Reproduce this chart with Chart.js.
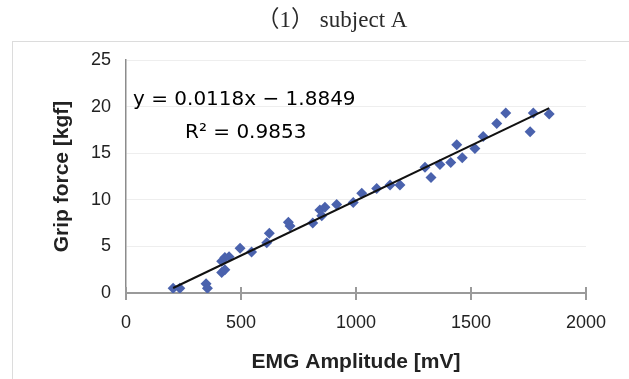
<!DOCTYPE html>
<html>
<head>
<meta charset="utf-8">
<script src="https://cdn.jsdelivr.net/npm/chart.js@4"></script>
<style>
  html, body { margin: 0; padding: 0; background: #ffffff; }
  #wrap { width: 629px; height: 379px; position: relative; }
</style>
</head>
<body>
<div id="wrap"><canvas id="c" width="629" height="379"></canvas></div>
<script>
// ---- data ----
const chartTitle = "（1） subject A";
const xTitle = "EMG Amplitude [mV]";
const yTitle = "Grip force [kgf]";
const xTicks = [0, 500, 1000, 1500, 2000];
const yTicks = [0, 5, 10, 15, 20, 25];

const emg  = [205, 234, 348, 354, 416, 430, 416, 430, 448, 496, 546, 612, 623, 706, 713, 812, 851, 843, 865, 916, 988, 1025, 1090, 1148, 1191, 1300, 1326, 1365, 1412, 1438, 1462, 1517, 1553, 1612, 1651, 1757, 1771, 1840];
const grip = [0.5, 0.5, 1.0, 0.5, 2.2, 2.5, 3.4, 3.8, 3.9, 4.8, 4.4, 5.4, 6.4, 7.6, 7.2, 7.5, 8.3, 8.9, 9.2, 9.5, 9.7, 10.7, 11.2, 11.6, 11.6, 13.5, 12.4, 13.8, 14.0, 15.9, 14.5, 15.5, 16.8, 18.2, 19.3, 17.3, 19.3, 19.2];

const trendSlope = 0.0118;
const trendIntercept = -1.8849;
const trendRange = [205, 1840];
const equationText = "y = 0.0118x − 1.8849";
const r2Text = "R² = 0.9853";

// ---- build ----
const points = emg.map((x, i) => ({ x: x, y: grip[i] }));
const trend = trendRange.map(x => ({ x: x, y: trendSlope * x + trendIntercept }));

const framePlugin = {
  id: 'frame',
  beforeDraw(chart) {
    const ctx = chart.ctx;
    ctx.save();
    ctx.strokeStyle = '#dcdcdc';
    ctx.lineWidth = 1;
    ctx.strokeRect(12.5, 41.5, chart.width, chart.height);
    ctx.restore();
  }
};

const crossTickPlugin = {
  id: 'crossTicks',
  beforeDatasetsDraw(chart) {
    const xs = chart.scales.x;
    const ctx = chart.ctx;
    const b = chart.chartArea.bottom;
    ctx.save();
    ctx.strokeStyle = '#9a9a9a';
    ctx.lineWidth = 2;
    xs.ticks.forEach(t => {
      const px = Math.round(xs.getPixelForValue(t.value));
      ctx.beginPath();
      ctx.moveTo(px, b - 6);
      ctx.lineTo(px, b + 7);
      ctx.stroke();
    });
    ctx.restore();
  }
};

const textPlugin = {
  id: 'texts',
  afterDraw(chart) {
    const ctx = chart.ctx;
    const a = chart.chartArea;
    ctx.save();
    ctx.fillStyle = '#2a2a2a';
    ctx.font = '23px "Liberation Serif", "Noto Sans CJK JP", serif';
    ctx.textAlign = 'center';
    ctx.textBaseline = 'middle';
    ctx.fillText(chartTitle, 332, 21);

    ctx.fillStyle = '#000000';
    ctx.font = '20px "DejaVu Sans", sans-serif';
    ctx.textAlign = 'left';
    ctx.fillText(equationText, a.left + 7, a.top + 40);
    ctx.fillText(r2Text, a.left + 59, a.top + 73);
    ctx.restore();
  }
};

new Chart(document.getElementById('c'), {
  type: 'scatter',
  data: {
    datasets: [
      {
        label: 'data',
        data: points,
        pointStyle: 'rectRot',
        pointRadius: 5.5,
        pointHoverRadius: 5.5,
        backgroundColor: '#4a62ad',
        borderColor: '#4a62ad',
        borderWidth: 0,
        order: 2
      },
      {
        label: 'trend',
        type: 'line',
        data: trend,
        borderColor: '#111111',
        borderWidth: 2,
        pointRadius: 0,
        fill: false,
        order: 1
      }
    ]
  },
  options: {
    responsive: false,
    animation: false,
    events: [],
    layout: { padding: { left: 12, right: 43, top: 60, bottom: 0 } },
    plugins: {
      legend: { display: false },
      title: { display: false },
      tooltip: { enabled: false }
    },
    scales: {
      x: {
        type: 'linear',
        min: xTicks[0],
        max: xTicks[xTicks.length - 1],
        afterBuildTicks(s) { s.ticks = xTicks.map(v => ({ value: v })); },
        afterFit(s) { s.height = 86; },
        grid: { display: false, drawTicks: false },
        border: { display: true, color: '#9a9a9a', width: 2 },
        ticks: {
          padding: 19,
          color: '#222',
          callback: v => String(v),
          font: { family: '"Liberation Sans", Arial, sans-serif', size: 18 }
        },
        title: {
          display: true,
          text: xTitle,
          color: '#222',
          font: { family: '"Liberation Sans", Arial, sans-serif', size: 21, weight: 'bold' },
          padding: { top: 0, bottom: 4 }
        }
      },
      y: {
        type: 'linear',
        min: yTicks[0],
        max: yTicks[yTicks.length - 1],
        afterBuildTicks(s) { s.ticks = yTicks.map(v => ({ value: v })); },
        afterFit(s) { s.width = 114; },
        grid: { display: true, color: '#eeeeee', lineWidth: 1, drawTicks: false },
        border: { display: true, color: '#8c8c8c', width: 1.5 },
        ticks: {
          padding: 15,
          color: '#222',
          callback: v => String(v),
          font: { family: '"Liberation Sans", Arial, sans-serif', size: 18 }
        },
        title: {
          display: true,
          text: yTitle,
          color: '#222',
          font: { family: '"Liberation Sans", Arial, sans-serif', size: 21, weight: 'bold' },
          padding: { top: 38, bottom: 0 }
        }
      }
    }
  },
  plugins: [framePlugin, crossTickPlugin, textPlugin]
});
</script>
</body>
</html>
